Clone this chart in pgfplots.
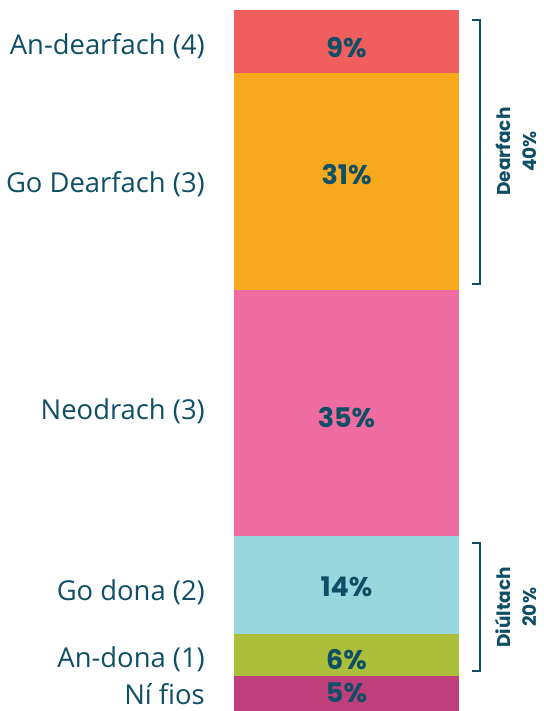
\documentclass[border=0pt]{standalone}
\usepackage{pgfplots}
\pgfplotsset{compat=1.18}
\usepackage{fontspec}
\setmainfont{Open Sans}
\newfontfamily\pop{Poppins}
\definecolor{txt}{HTML}{0E4F66}
\definecolor{cA}{HTML}{F15E5E}
\definecolor{cB}{HTML}{F7A81D}
\definecolor{cC}{HTML}{EF6CA1}
\definecolor{cD}{HTML}{97D7DD}
\definecolor{cE}{HTML}{ABBF3B}
\definecolor{cF}{HTML}{BE3F7B}
\tikzset{
  pct/.style={text=txt, inner sep=0pt, font=\pop\fontsize{27}{30}\selectfont\bfseries},
  cat/.style={text=txt, anchor=east, font=\fontsize{27.4}{30}\selectfont, inner sep=0pt},
  grp/.style={text=txt, rotate=90, align=center, inner sep=0pt, font=\pop\fontsize{18.5}{26}\selectfont\bfseries},
}
\begin{document}
\begin{tikzpicture}
\begin{axis}[at={(234pt,0pt)}, anchor=south west, scale only axis,
  width=225pt, height=701pt, xmin=-0.5, xmax=0.5, ymin=0, ymax=100,
  hide axis, ybar stacked, bar width=225pt, clip=false]
\addplot[fill=cF, draw=none] coordinates {(0,5)};
\addplot[fill=cE, draw=none] coordinates {(0,6)};
\addplot[fill=cD, draw=none] coordinates {(0,14)};
\addplot[fill=cC, draw=none] coordinates {(0,35)};
\addplot[fill=cB, draw=none] coordinates {(0,31)};
\addplot[fill=cA, draw=none] coordinates {(0,9)};
\coordinate (p1) at (axis cs:0,94.7);
\coordinate (p2) at (axis cs:0,76.5);
\coordinate (p3) at (axis cs:0,41.9);
\coordinate (p4) at (axis cs:0,17.7);
\coordinate (p5) at (axis cs:0,7.4);
\coordinate (p6) at (axis cs:0,2.6);
\node[cat] at ([xshift=-29pt]axis cs:-0.5,94.9) {An-dearfach (4)};
\node[cat] at ([xshift=-29pt]axis cs:-0.5,75.2) {Go Dearfach (3)};
\node[cat] at ([xshift=-29pt]axis cs:-0.5,42.7) {Neodrach (3)};
\node[cat] at ([xshift=-29pt]axis cs:-0.5,17.0) {Go dona (2)};
\node[cat] at ([xshift=-29pt]axis cs:-0.5,7.4) {An-dona (1)};
\node[cat] at ([xshift=-29pt]axis cs:-0.5,2.4) {Ní fios};
\draw[txt, line width=1.5pt] ([xshift=13pt]axis cs:0.5,98.6) -- ([xshift=21pt]axis cs:0.5,98.6) -- ([xshift=21pt]axis cs:0.5,60.9) -- ([xshift=13pt]axis cs:0.5,60.9);
\draw[txt, line width=1.5pt] ([xshift=13pt]axis cs:0.5,24.0) -- ([xshift=21pt]axis cs:0.5,24.0) -- ([xshift=21pt]axis cs:0.5,5.7) -- ([xshift=13pt]axis cs:0.5,5.7);
\node[grp] at ([xshift=57pt]axis cs:0.5,79.8) {Dearfach\\40\%};
\node[grp] at ([xshift=57pt]axis cs:0.5,14.8) {Diúltach\\20\%};
\end{axis}
\node[pct] at (p1) {9\%};
\node[pct] at (p2) {31\%};
\node[pct] at (p3) {35\%};
\node[pct] at (p4) {14\%};
\node[pct] at (p5) {6\%};
\node[pct] at (p6) {5\%};
\useasboundingbox (0,0) rectangle (543pt,711pt);
\end{tikzpicture}
\end{document}
